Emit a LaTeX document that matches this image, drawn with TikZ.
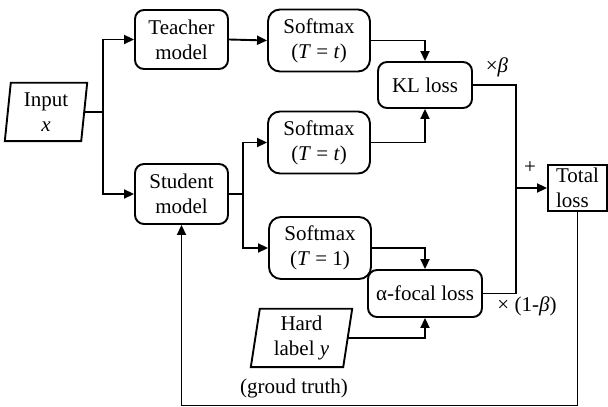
\documentclass[tikz,border=0pt]{standalone}
\usepackage{fontspec}
\setmainfont{Liberation Serif}
\usetikzlibrary{arrows.meta}
\begin{document}
\begin{tikzpicture}[x=1pt,y=1pt,
  every node/.style={font=\fontsize{21}{25}\selectfont, align=center, inner sep=0pt},
  rbox/.style={draw, rounded corners=9pt, line width=1.9pt},
  link/.style={line width=1.9pt, -{Triangle[length=10pt,width=9pt]}},
  plain/.style={line width=1.9pt},
]
\useasboundingbox (0,0) rectangle (608,407);
% input
\node[minimum width=76, minimum height=58] (in) at (46,295) {Input\\\textit{x}};
\draw[plain] ([xshift=3]in.north west) -- ([xshift=3]in.north east) -- ([xshift=-3]in.south east) -- ([xshift=-3]in.south west) -- cycle;
% hard label
\node[minimum width=92, minimum height=58] (hard) at (301.5,69) {Hard\\label \textit{y}};
\draw[plain] ([xshift=4.5]hard.north west) -- ([xshift=4.5]hard.north east) -- ([xshift=-4.5]hard.south east) -- ([xshift=-4.5]hard.south west) -- cycle;
% boxes
\node[rbox, minimum width=93, minimum height=59] (teacher) at (181.5,367.5) {Teacher\\model};
\node[rbox, minimum width=93, minimum height=60] (student) at (181.5,213) {Student\\model};
\node[rbox, rounded corners=12pt, minimum width=102, minimum height=62] (sm1) at (319,366.5) {Softmax\\(\textit{T} = \textit{t})};
\node[rbox, rounded corners=12pt, minimum width=102, minimum height=62] (sm2) at (319,264.5) {Softmax\\(\textit{T} = \textit{t})};
\node[rbox, rounded corners=12pt, minimum width=102, minimum height=62] (sm3) at (320,159) {Softmax\\(\textit{T} = 1)};
\node[rbox, minimum width=94, minimum height=46] (kl) at (425,322) {KL loss};
\node[rbox, minimum width=114, minimum height=47] (focal) at (425,113.5) {α-focal loss};
\node[draw, line width=1.9pt, minimum width=59, minimum height=46, align=left] (total) at (577.5,219) {Total\\loss};
% labels
\node (lb) at (497,340) {×\textit{β}};
\node (lp) at (530,239) {+};
\node (lf) at (527,101) {× (1-\textit{β})};
\node (lg) at (294,19) {(groud truth)};
% connectors
\coordinate (ja) at ([xshift=19]in.east);
\draw[plain] (in.east) -- (ja);
\draw[link] (ja) |- (teacher.west);
\draw[link] (ja) |- (student.west);
\draw[link] (teacher.east) -- (sm1.west);
\draw[link] (sm1.east) -| (kl.north);
\draw[link] (sm2.east) -| (kl.south);
\coordinate (jb) at (243,213);
\draw[plain] (student.east) -- (jb);
\draw[link] (jb) |- (sm2.west);
\draw[link] (jb) |- (sm3.west);
\draw[link] (sm3.east) -| (focal.north);
\draw[link] (hard.east) -| (focal.south);
\coordinate (jc) at (516,219);
\draw[plain] (kl.east) -| (jc);
\draw[plain] (focal.east) -| (jc);
\draw[link] (jc) -- (total.west);
\coordinate (jd) at (577.5,1.5);
\draw[link] (total.south) -- (jd) -| (student.south);
\end{tikzpicture}
\end{document}
